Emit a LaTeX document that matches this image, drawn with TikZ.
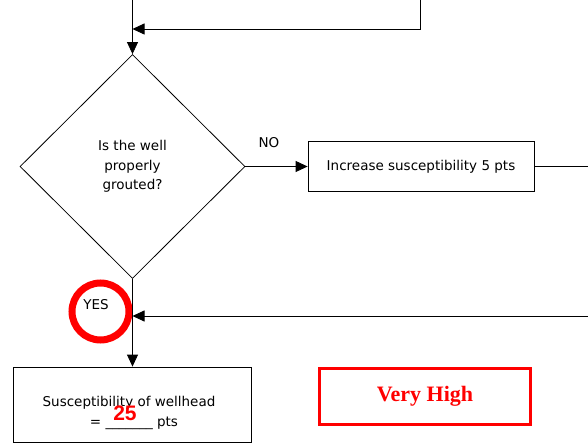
\documentclass[tikz,border=0pt]{standalone}
\usepackage{fontspec}
\setmainfont{DejaVu Sans}
\newfontfamily\serifbold{Liberation Serif}
\newfontfamily\arialbold{Liberation Sans}
\usetikzlibrary{shapes.geometric,arrows.meta}
\definecolor{redmark}{RGB}{255,0,0}
\begin{document}
\begin{tikzpicture}[x=1pt,y=-1pt,
  conn/.style={line width=0.8pt,draw=black},
  arr/.style={conn,-{Triangle[length=12pt,width=11pt]}},
  boxnode/.style={draw=black,line width=0.8pt,rectangle,inner sep=0pt,align=center,font=\fontsize{13.5}{16}\selectfont},
  dianode/.style={draw=black,line width=0.8pt,diamond,inner sep=0pt,align=center,font=\fontsize{13.5}{19.5}\selectfont},
  lbl/.style={font=\fontsize{13.5}{16}\selectfont,inner sep=0pt,align=center}
]
\useasboundingbox (0,0) rectangle (588,443);
% nodes
\node[dianode,minimum width=225pt,minimum height=224pt] (dia) at (132.5,166.5) {Is the well\\properly\\grouted?};
\node[boxnode,minimum width=226pt,minimum height=50pt] (inc) at (421,166.5) {Increase susceptibility 5 pts};
\node[boxnode,minimum width=238pt,minimum height=75pt] (sus) at (132,404.5) {};
\node[lbl,font=\fontsize{13.5}{20}\selectfont] (sustxt) at (129,413) {Susceptibility of wellhead\\\hspace*{10pt}= \_\_\_\_\_\_\_ pts};
\node[font=\arialbold\bfseries\fontsize{21}{21}\selectfont,text=redmark,inner sep=0pt] (val) at (125,413) {25};
\node[draw=redmark,line width=3pt,minimum width=211pt,minimum height=56pt,inner sep=0pt,text=redmark,font=\serifbold\bfseries\fontsize{22}{22}\selectfont] (vh) at (425,396.5) {Very High};
\node[draw=redmark,line width=7pt,circle,minimum size=57pt,inner sep=0pt] (ring) at (100.5,311.5) {};
\node[lbl] (yes) at (96,305) {YES};
\node[lbl] (no) at (269,143) {NO};
% coordinates
\coordinate (t1) at (132.5,0);
\coordinate (t2) at (420,0);
\coordinate (m1) at (132.5,29);
\coordinate (r1) at (588,166.5);
\coordinate (r2) at (588,316);
\coordinate (m2) at (132.5,316);
% connectors
\draw[arr] (t1) -- (dia.north);
\draw[arr] (t2) |- (m1);
\draw[arr] (dia.east) -- (inc.west);
\draw[conn] (inc.east) -- (r1);
\draw[arr] (dia.south) -- (sus.north -| dia.south);
\draw[arr] (r2) -- (m2);
\end{tikzpicture}
\end{document}
